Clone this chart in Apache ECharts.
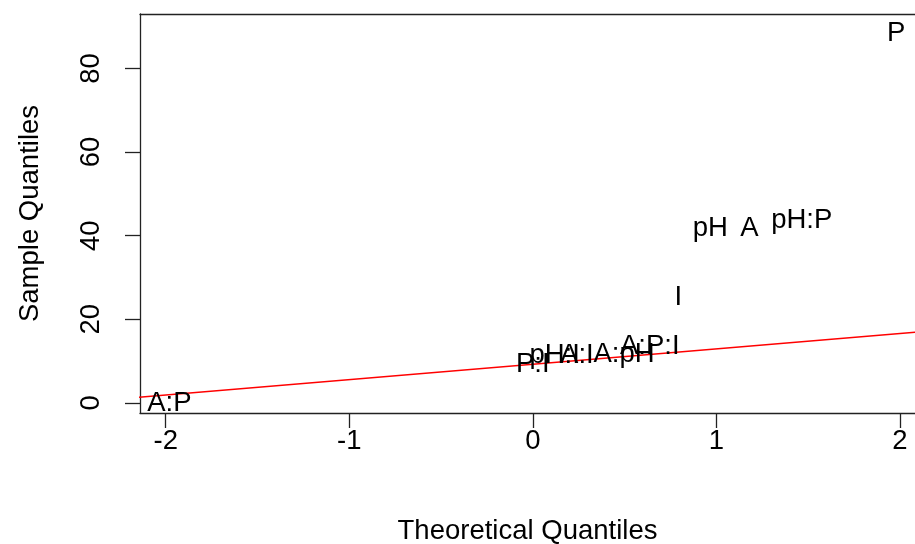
<!DOCTYPE html>
<html>
<head>
<meta charset="utf-8">
<script src="https://cdn.jsdelivr.net/npm/echarts@6/dist/echarts.min.js"></script>
<style>
html,body{margin:0;padding:0;background:#fff;}
#chart{width:915px;height:544px;}
</style>
</head>
<body>
<div id="chart"></div>
<script>
// Effect labels and their normal Q-Q coordinates
const effectLabels = ['A:P', 'P:I', 'pH:I', 'A:I', 'A:pH', 'A:P:I', 'I', 'pH', 'A', 'pH:P', 'P'];
const theoreticalQ = [-1.98, 0.0, 0.119, 0.240, 0.497, 0.637, 0.792, 0.967, 1.180, 1.465, 1.98];
const sampleQ = [1.1, 10.4, 12.5, 12.5, 12.7, 14.7, 26.4, 42.9, 42.9, 44.9, 89.7];

// qqline (reference line) parameters
const qqIntercept = [9.24];
const qqSlope = [3.68];

// axis ticks
const xTicks = [-2, -1, 0, 1, 2];
const yTicks = [0, 20, 40, 60, 80];
const xRange = [-2.14, 2.082];
const yRange = [-2.44, 93.04];

const FONT = 'Liberation Sans, Arial, Helvetica, sans-serif';
const FS = 27.5;
const INK = '#000';
const FRAME = '#222';

const labelData = effectLabels.map((n, i) => ({ name: n, value: [theoreticalQ[i], sampleQ[i]] }));
const lineData = [-2.2, 2.2].map(x => [x, qqIntercept[0] + qqSlope[0] * x]);

const chart = echarts.init(document.getElementById('chart'), null, { renderer: 'canvas' });
chart.setOption({
  animation: false,
  backgroundColor: '#fff',
  grid: { left: 140, top: 14, right: 0, bottom: 131, show: false, containLabel: false, outerBoundsMode: 'none' },
  xAxis: [{
    type: 'value', min: xRange[0], max: xRange[1], position: 'bottom',
    splitLine: { show: false },
    axisLine: { show: true, onZero: false, lineStyle: { color: FRAME, width: 1.3 } },
    axisTick: { show: true, inside: false, length: 15, customValues: xTicks, lineStyle: { color: FRAME, width: 1.3 } },
    axisLabel: { show: true, customValues: xTicks, margin: 14, color: INK, fontFamily: FONT, fontSize: FS },
    name: 'Theoretical Quantiles', nameLocation: 'middle', nameGap: 104,
    nameTextStyle: { color: INK, fontFamily: FONT, fontSize: FS }
  }, {
    type: 'value', min: xRange[0], max: xRange[1], position: 'top',
    splitLine: { show: false },
    axisLine: { show: true, onZero: false, lineStyle: { color: FRAME, width: 1.3 } },
    axisTick: { show: false }, axisLabel: { show: false }
  }],
  yAxis: {
    type: 'value', min: yRange[0], max: yRange[1],
    splitLine: { show: false },
    axisLine: { show: true, onZero: false, lineStyle: { color: FRAME, width: 1.3 } },
    axisTick: { show: true, inside: false, length: 15, customValues: yTicks, lineStyle: { color: FRAME, width: 1.3 } },
    axisLabel: { show: true, customValues: yTicks, rotate: 90, margin: 35, color: INK, fontFamily: FONT, fontSize: FS },
    name: 'Sample Quantiles', nameLocation: 'middle', nameGap: 96, nameRotate: 90,
    nameTextStyle: { color: INK, fontFamily: FONT, fontSize: FS }
  },
  series: [
    {
      type: 'line', data: lineData, showSymbol: false, symbol: 'none',
      lineStyle: { color: '#ff0000', width: 1.5 }, clip: true, z: 3, silent: true
    },
    {
      type: 'scatter', data: labelData, symbolSize: 0, z: 4, silent: true, clip: false,
      itemStyle: { opacity: 1 },
      label: {
        show: true, position: 'inside', formatter: p => p.name, offset: [0, 5],
        color: INK, opacity: 1, fontFamily: FONT, fontSize: FS
      }
    }
  ]
});
</script>
</body>
</html>
